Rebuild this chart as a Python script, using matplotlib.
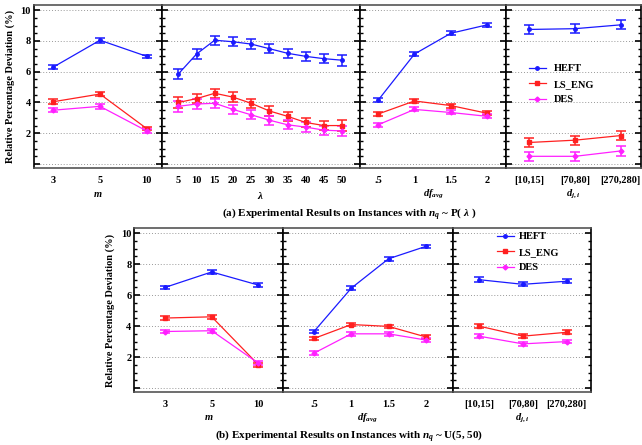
import numpy as np
import matplotlib
matplotlib.use("Agg")
import matplotlib.pyplot as plt
from matplotlib.ticker import MultipleLocator

plt.rcParams['font.family'] = ['Liberation Serif', 'DejaVu Serif']
plt.rcParams['font.weight'] = 'bold'
plt.rcParams['axes.labelweight'] = 'bold'
plt.rcParams['mathtext.fontset'] = 'custom'
plt.rcParams['mathtext.rm'] = 'Liberation Serif:bold'
plt.rcParams['mathtext.it'] = 'Liberation Serif:italic:bold'
plt.rcParams['mathtext.bf'] = 'Liberation Serif:bold'

# ---- data ----
m_labels = ['3', '5', '10']
lam_values = [5, 10, 15, 20, 25, 30, 35, 40, 45, 50]
df_values = [0.5, 1, 1.5, 2]
df_labels = ['.5', '1', '1.5', '2']
d_labels = ['[10,15]', '[70,80]', '[270,280]']

# (a) n_q ~ P(lambda)
a_m_heft = [6.3, 8.05, 7.0]
a_m_ls = [4.05, 4.55, 2.3]
a_m_des = [3.5, 3.75, 2.15]
a_m_err = [0.15, 0.15, 0.12]

a_lam_heft = [5.85, 7.15, 8.05, 7.95, 7.8, 7.5, 7.2, 7.0, 6.85, 6.75]
a_lam_ls = [4.0, 4.25, 4.6, 4.35, 3.95, 3.45, 3.1, 2.7, 2.5, 2.5]
a_lam_des = [3.75, 3.9, 3.95, 3.55, 3.2, 2.85, 2.55, 2.4, 2.2, 2.15]
a_lam_err = [0.35, 0.3, 0.3, 0.3, 0.3, 0.3, 0.3, 0.3, 0.3, 0.35]

a_df_heft = [4.15, 7.15, 8.5, 9.05]
a_df_ls = [3.25, 4.1, 3.8, 3.3]
a_df_des = [2.55, 3.55, 3.35, 3.1]
a_df_err = [0.13, 0.13, 0.13, 0.13]

a_d_heft = [8.75, 8.8, 9.05]
a_d_ls = [1.4, 1.55, 1.85]
a_d_des = [0.5, 0.5, 0.85]
a_d_err = [0.3, 0.3, 0.3]

# (b) n_q ~ U(5, 50)
b_m_heft = [6.5, 7.5, 6.65]
b_m_ls = [4.52, 4.6, 1.5]
b_m_des = [3.65, 3.7, 1.6]
b_m_err = [0.12, 0.12, 0.12]

b_df_heft = [3.65, 6.45, 8.35, 9.15]
b_df_ls = [3.2, 4.1, 3.98, 3.3]
b_df_des = [2.25, 3.5, 3.5, 3.1]
b_df_err = [0.12, 0.12, 0.12, 0.12]

b_d_heft = [7.0, 6.7, 6.9]
b_d_ls = [4.0, 3.35, 3.6]
b_d_des = [3.35, 2.85, 3.0]
b_d_err = [0.15, 0.12, 0.12]

colors = {'HEFT': '#1a1aff', 'LS_ENG': '#ff2020', 'DES': '#ff20ff'}
markers = {'HEFT': 'o', 'LS_ENG': 's', 'DES': 'D'}

W, H = 642, 445
fig = plt.figure(figsize=(W / 100, H / 100), dpi=100)


def px_axes(x0, x1, y0, y1):
    # pixel box (top-left origin) -> figure axes
    return fig.add_axes([x0 / W, 1 - y1 / H, (x1 - x0) / W, (y1 - y0) / H])


def style(ax, first):
    ax.set_ylim(-0.26, 10.34)
    ax.yaxis.set_major_locator(MultipleLocator(2))
    ax.yaxis.set_minor_locator(MultipleLocator(0.5))
    ax.grid(axis='y', which='major', linestyle=(0, (1, 2)), color='#999999', linewidth=0.7)
    ax.tick_params(axis='y', which='major', direction='in', length=4, width=1.2,
                   left=True, right=True, labelsize=7.5, pad=2)
    ax.tick_params(axis='y', which='minor', direction='in', length=2.5, width=1,
                   left=True, right=True)
    ax.tick_params(axis='x', length=0, labelsize=7.5, pad=6)
    for s in ax.spines.values():
        s.set_linewidth(1.2)
    ax.spines['top'].set_color('#555555')
    ax.spines['bottom'].set_color('#555555')
    if first:
        ax.set_yticks([0, 2, 4, 6, 8, 10])
        ax.set_yticklabels(['', '2', '4', '6', '8', '10'])
    else:
        ax.tick_params(axis='y', labelleft=False)


def draw(ax, x, series, errs):
    lines = []
    for name, ys in series:
        c = ax.errorbar(x, ys, yerr=errs, color=colors[name], marker=markers[name],
                        markersize=2.5, linewidth=0.9, elinewidth=1.1, capsize=3.5,
                        capthick=1.1)
        lines.append((c[0], name))
    return lines


def add_legend(ax, lines, x, y, textpad):
    ax.legend([h for h, _ in lines], [n for _, n in lines], loc='upper left',
              bbox_to_anchor=(x / W, 1 - y / H), bbox_transform=fig.transFigure,
              frameon=False, fontsize=7.5, handlelength=1.6, labelspacing=0.6,
              borderaxespad=0, borderpad=0.3, handletextpad=textpad)


# ---- row (a) ----
row_a = (5, 168)
ax1 = px_axes(33.6, 161.7, *row_a)
draw(ax1, range(3), [('HEFT', a_m_heft), ('LS_ENG', a_m_ls), ('DES', a_m_des)], a_m_err)
ax1.set_xlim(-0.42, 2.32)
ax1.set_xticks(range(3))
ax1.set_xticklabels(m_labels)
ax1.set_xlabel('$m$', fontsize=7.5, labelpad=3)
style(ax1, True)
ax1.set_ylabel('Relative Percentage Deviation (%)', fontsize=7.5, labelpad=4)

ax2 = px_axes(161.7, 360, *row_a)
draw(ax2, lam_values, [('HEFT', a_lam_heft), ('LS_ENG', a_lam_ls), ('DES', a_lam_des)], a_lam_err)
ax2.set_xlim(0.44, 54.9)
ax2.set_xticks(lam_values)
ax2.set_xlabel(r'$\lambda$', fontsize=8, labelpad=3)
style(ax2, False)

ax3 = px_axes(360, 506, *row_a)
draw(ax3, df_values, [('HEFT', a_df_heft), ('LS_ENG', a_df_ls), ('DES', a_df_des)], a_df_err)
ax3.set_xlim(0.25, 2.26)
ax3.set_xticks(df_values)
ax3.set_xticklabels(df_labels)
ax3.set_xlabel('$df_{avg}$', fontsize=7.5, labelpad=2)
style(ax3, False)

ax4 = px_axes(506, 641, *row_a)
lines_a = draw(ax4, range(3), [('HEFT', a_d_heft), ('LS_ENG', a_d_ls), ('DES', a_d_des)], a_d_err)
ax4.set_xlim(-0.51, 2.44)
ax4.set_xticks(range(3))
ax4.set_xticklabels(d_labels)
ax4.set_xlabel('$d_{j,i}$', fontsize=7.5, labelpad=2)
style(ax4, False)
add_legend(ax4, lines_a, 526, 61, 0.8)

fig.text(349 / W, 1 - 214 / H,
         r'(a) Experimental Results on Instances with $n_q$ ~ P( $\lambda$ )',
         ha='center', va='center', fontsize=8)

# ---- row (b) ----
row_b = (228, 392)
bx1 = px_axes(134.2, 282.7, *row_b)
draw(bx1, range(3), [('HEFT', b_m_heft), ('LS_ENG', b_m_ls), ('DES', b_m_des)], b_m_err)
bx1.set_xlim(-0.66, 2.52)
bx1.set_xticks(range(3))
bx1.set_xticklabels(m_labels)
bx1.set_xlabel('$m$', fontsize=7.5, labelpad=3)
style(bx1, True)
bx1.set_ylabel('Relative Percentage Deviation (%)', fontsize=7.5, labelpad=4)

bx2 = px_axes(282.7, 452.6, *row_b)
draw(bx2, df_values, [('HEFT', b_df_heft), ('LS_ENG', b_df_ls), ('DES', b_df_des)], b_df_err)
bx2.set_xlim(0.08, 2.36)
bx2.set_xticks(df_values)
bx2.set_xticklabels(df_labels)
bx2.set_xlabel('$df_{avg}$', fontsize=7.5, labelpad=1.5)
style(bx2, False)

bx3 = px_axes(452.6, 591, *row_b)
lines_b = draw(bx3, range(3), [('HEFT', b_d_heft), ('LS_ENG', b_d_ls), ('DES', b_d_des)], b_d_err)
bx3.set_xlim(-0.6, 2.55)
bx3.set_xticks(range(3))
bx3.set_xticklabels(d_labels)
bx3.set_xlabel('$d_{j,i}$', fontsize=7.5, labelpad=1.5)
style(bx3, False)
add_legend(bx3, lines_b, 494, 229, 0.5)

fig.text(349 / W, 1 - 436 / H,
         r'(b) Experimental Results on Instances with $n_q$ ~ U(5, 50)',
         ha='center', va='center', fontsize=8)

fig.savefig('out.png', dpi=100)
